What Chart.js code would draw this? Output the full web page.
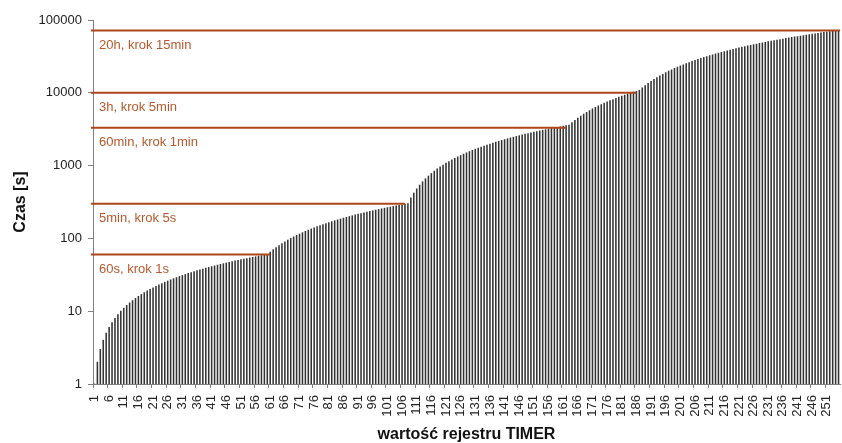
<!DOCTYPE html>
<html>
<head>
<meta charset="utf-8">
<script src="https://cdn.jsdelivr.net/npm/chart.js@4/dist/chart.umd.min.js"></script>
<style>
  html, body { margin: 0; padding: 0; background: #fff; }
  #wrap { width: 842px; height: 443px; }
</style>
</head>
<body>
<div id="wrap"><canvas id="timer-chart"></canvas></div>
<script>
// wartości rejestru TIMER (kategorie osi X)
const timerValues = [
  1,2,3,4,5,6,7,8,9,10,11,12,13,14,15,16,17,18,19,20,21,22,23,24,25,26,27,28,29,30,
  31,32,33,34,35,36,37,38,39,40,41,42,43,44,45,46,47,48,49,50,51,52,53,54,55,56,57,58,59,60,
  61,62,63,64,65,66,67,68,69,70,71,72,73,74,75,76,77,78,79,80,81,82,83,84,85,86,87,88,89,90,
  91,92,93,94,95,96,97,98,99,100,101,102,103,104,105,106,107,108,109,110,111,112,113,114,115,116,117,118,119,120,
  121,122,123,124,125,126,127,128,129,130,131,132,133,134,135,136,137,138,139,140,141,142,143,144,145,146,147,148,149,150,
  151,152,153,154,155,156,157,158,159,160,161,162,163,164,165,166,167,168,169,170,171,172,173,174,175,176,177,178,179,180,
  181,182,183,184,185,186,187,188,189,190,191,192,193,194,195,196,197,198,199,200,201,202,203,204,205,206,207,208,209,210,
  211,212,213,214,215,216,217,218,219,220,221,222,223,224,225,226,227,228,229,230,231,232,233,234,235,236,237,238,239,240,
  241,242,243,244,245,246,247,248,249,250,251,252,253,254,255
];

// czas [s] dla kolejnych zakresów
const time1s = [
  1,2,3,4,5,6,7,8,9,10,11,12,13,14,15,16,17,18,19,20,21,22,23,24,25,26,27,28,29,30,
  31,32,33,34,35,36,37,38,39,40,41,42,43,44,45,46,47,48,49,50,51,52,53,54,55,56,57,58,59,60
];
const time5s = [
  65,70,75,80,85,90,95,100,105,110,115,120,125,130,135,140,145,150,155,160,165,170,175,180,
  185,190,195,200,205,210,215,220,225,230,235,240,245,250,255,260,265,270,275,280,285,290,295,300
];
const time1min = [
  360,420,480,540,600,660,720,780,840,900,960,1020,1080,1140,1200,1260,1320,1380,1440,1500,
  1560,1620,1680,1740,1800,1860,1920,1980,2040,2100,2160,2220,2280,2340,2400,2460,2520,2580,2640,2700,
  2760,2820,2880,2940,3000,3060,3120,3180,3240,3300,3360,3420,3480,3540,3600
];
const time5min = [
  3900,4200,4500,4800,5100,5400,5700,6000,6300,6600,6900,7200,7500,7800,8100,8400,8700,9000,
  9300,9600,9900,10200,10500,10800
];
const time15min = [
  11700,12600,13500,14400,15300,16200,17100,18000,18900,19800,20700,21600,22500,23400,24300,25200,
  26100,27000,27900,28800,29700,30600,31500,32400,33300,34200,35100,36000,36900,37800,38700,39600,
  40500,41400,42300,43200,44100,45000,45900,46800,47700,48600,49500,50400,51300,52200,53100,54000,
  54900,55800,56700,57600,58500,59400,60300,61200,62100,63000,63900,64800,65700,66600,67500,68400,
  69300,70200,71100,72000
];

const yTicks = [1, 10, 100, 1000, 10000, 100000];

// linie zakresów
const rangeValues = [60, 300, 3300, 10000, 72000];
const rangeEnds = [61, 107, 162, 186, 255];
const rangeTexts = ['60s, krok 1s', '5min, krok 5s', '60min, krok 1min', '3h, krok 5min', '20h, krok 15min'];

const timeData = time1s.concat(time5s, time1min, time5min, time15min);

const FONT = '"Liberation Sans", Arial, sans-serif';

const rangeLines = {
  id: 'rangeLines',
  afterDatasetsDraw(chart) {
    const { ctx, chartArea, scales: { x, y } } = chart;
    ctx.save();
    rangeValues.forEach((v, i) => {
      const py = y.getPixelForValue(v);
      const endX = rangeEnds[i] === timerValues.length ? chartArea.right : x.getPixelForValue(rangeEnds[i] - 1);
      ctx.strokeStyle = '#b0461b';
      ctx.lineWidth = 2;
      ctx.beginPath();
      ctx.moveTo(chartArea.left - 2, py);
      ctx.lineTo(endX, py);
      ctx.stroke();
      ctx.fillStyle = '#b5592d';
      ctx.font = '13px ' + FONT;
      ctx.textBaseline = 'middle';
      ctx.textAlign = 'left';
      ctx.fillText(rangeTexts[i], chartArea.left + 6, py + 15);
    });
    ctx.restore();
  }
};

const ctx = document.getElementById('timer-chart').getContext('2d');
new Chart(ctx, {
  type: 'bar',
  data: {
    labels: timerValues,
    datasets: [{
      data: timeData,
      backgroundColor: '#333333',
      barThickness: 0.9,
    }],
  },
  plugins: [rangeLines],
  options: {
    responsive: true,
    maintainAspectRatio: false,
    animation: false,
    layout: { padding: { top: 20, right: 2, left: 0, bottom: 0 } },
    plugins: {
      legend: { display: false },
      tooltip: { enabled: false },
    },
    scales: {
      x: {
        grid: {
          drawOnChartArea: false,
          tickLength: 4,
          color: (c) => (c.index % 5 === 0 ? '#808080' : 'rgba(0,0,0,0)'),
        },
        border: { color: '#808080' },
        ticks: {
          autoSkip: false,
          maxRotation: 90,
          minRotation: 90,
          padding: 7,
          color: '#222',
          font: { family: FONT, size: 13 },
          callback: (val, idx) => (idx % 5 === 0 ? String(timerValues[idx]) : ''),
        },
        title: {
          display: true,
          text: 'wartość rejestru TIMER',
          color: '#111',
          font: { family: FONT, size: 16, weight: 'bold' },
          padding: { top: 0, bottom: -1 },
        },
        afterFit: (scale) => {
          scale.height = 59;
          scale.paddingLeft = 0;
          scale.paddingRight = 0;
        },
      },
      y: {
        type: 'logarithmic',
        min: 1,
        max: 100000,
        afterBuildTicks: (axis) => { axis.ticks = yTicks.map((v) => ({ value: v })); },
        grid: {
          drawOnChartArea: false,
          tickLength: 5,
          color: '#808080',
        },
        border: { color: '#808080' },
        ticks: {
          padding: 6,
          color: '#222',
          font: { family: FONT, size: 13 },
          callback: (v) => String(v),
        },
        title: {
          display: true,
          text: 'Czas [s]',
          color: '#111',
          font: { family: FONT, size: 16, weight: 'bold' },
          padding: { top: 11, bottom: 0 },
        },
        afterFit: (scale) => {
          scale.width = 93;
          scale.paddingTop = 0;
          scale.paddingBottom = 0;
        },
      },
    },
  },
});
</script>
</body>
</html>
